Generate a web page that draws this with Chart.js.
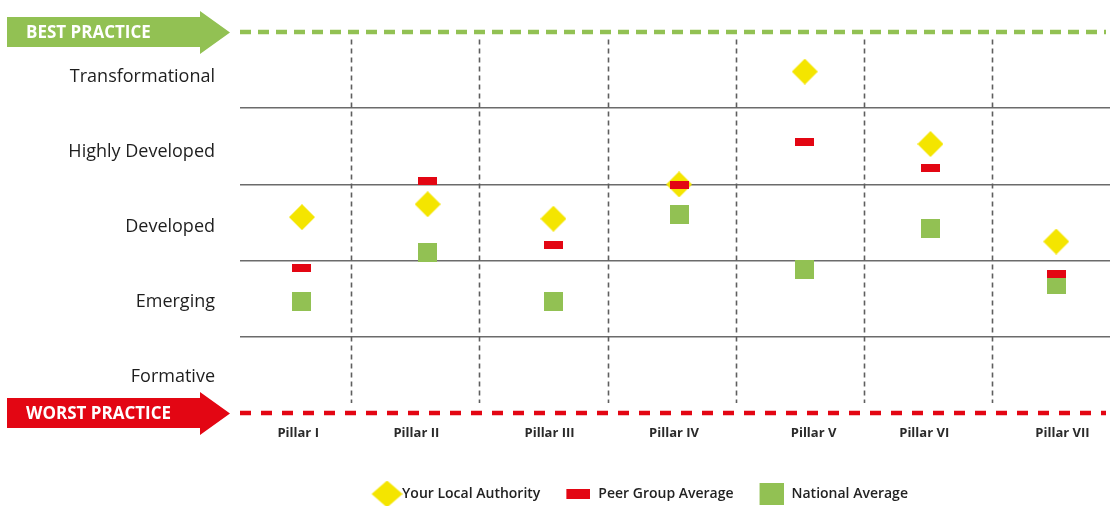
<!DOCTYPE html>
<html>
<head>
<meta charset="utf-8">
<script src="https://cdn.jsdelivr.net/npm/chart.js@4.4.1/dist/chart.umd.min.js"></script>
<style>
html,body{margin:0;padding:0;background:#fff;}
#wrap{width:1110px;height:506px;position:relative;}
</style>
</head>
<body>
<div id="wrap"><canvas id="c" width="1110" height="506"></canvas></div>
<script>
// ---- data ----
const pillars = ['Pillar I','Pillar II','Pillar III','Pillar IV','Pillar V','Pillar VI','Pillar VII'];
const levels = ['Formative','Emerging','Developed','Highly Developed','Transformational'];
const seriesNames = ['Your Local Authority','Peer Group Average','National Average'];
const localAuthority = [2.57, 2.74, 2.55, 3.00, 4.48, 3.53, 2.25];
const peerGroup      = [1.90, 3.04, 2.20, 2.99, 3.56, 3.21, 1.83];
const nationalAvg    = [1.46, 2.11, 1.46, 2.61, 1.88, 2.42, 1.68];

// ---- styling ----
const YELLOW = '#f4e500', RED = '#e30613', GREEN = '#92c153';
const labelNudge = [-0.03, -0.09, -0.03, -0.04, 0.07, -0.05, 0.05];
const sepStart = 1.392, sepStep = 1.02;
const levelLabelStep = 0.984;
const legendLeftInset = 152;

function makeMarker(shape, w, h, color, shift) {
  shift = shift || 0;
  const c = document.createElement('canvas');
  const W = w + 2 * Math.abs(shift);
  c.width = W; c.height = h;
  const g = c.getContext('2d');
  g.fillStyle = color;
  const x0 = (W - w) / 2 + shift;
  if (shape === 'diamond') {
    g.beginPath();
    g.moveTo(x0 + w / 2, 0); g.lineTo(x0 + w, h / 2);
    g.lineTo(x0 + w / 2, h); g.lineTo(x0, h / 2);
    g.closePath(); g.fill();
  } else {
    g.fillRect(x0, 0, w, h);
  }
  return c;
}
const chartMarkers = [
  makeMarker('diamond', 26, 26, YELLOW),
  makeMarker('rect', 19, 8, RED),
  makeMarker('rect', 19, 19, GREEN)
];
const legendMarkers = [
  makeMarker('diamond', 31, 27, YELLOW, 12.5),
  makeMarker('rect', 24, 10, RED, 7.5),
  makeMarker('rect', 24, 22, GREEN, 7.5)
];

const toPoints = arr => arr.map((v, i) => ({ x: i + 1, y: v }));
const seriesValues = [localAuthority, peerGroup, nationalAvg];
const drawOrder = [3, 1, 2];

const datasets = seriesValues.map((vals, k) => ({
  label: seriesNames[k],
  data: toPoints(vals),
  pointStyle: chartMarkers[k],
  pointRadius: 10,
  pointHoverRadius: 10,
  order: drawOrder[k],
  showLine: false,
  clip: false,
  xAxisID: 'x',
  yAxisID: 'y'
}));

const XMIN = 0.507, XMAX = 7.428;

const decor = {
  id: 'decor',
  afterLayout(chart) {
    if (chart.legend) chart.legend.left = legendLeftInset;
  },
  beforeDatasetsDraw(chart) {
    const ctx = chart.ctx, x = chart.scales.x, y = chart.scales.y;
    ctx.save();
    ctx.strokeStyle = '#5e5e5e';
    ctx.lineWidth = 1.6;
    ctx.setLineDash([5, 4]);
    for (let k = 0; k < pillars.length - 1; k++) {
      const px = Math.round(x.getPixelForValue(sepStart + k * sepStep)) + 0.5;
      ctx.beginPath();
      ctx.moveTo(px, y.getPixelForValue(4.9));
      ctx.lineTo(px, y.getPixelForValue(0.13));
      ctx.stroke();
    }
    ctx.restore();
  },
  afterDraw(chart) {
    const ctx = chart.ctx, y = chart.scales.y, a = chart.chartArea;
    const yTop = y.getPixelForValue(5), yBot = y.getPixelForValue(0);
    ctx.save();
    ctx.lineWidth = 4.6;
    ctx.setLineDash([11, 7]);
    ctx.strokeStyle = GREEN;
    ctx.beginPath(); ctx.moveTo(a.left, yTop); ctx.lineTo(a.right - 4, yTop); ctx.stroke();
    ctx.setLineDash([11, 10]);
    ctx.strokeStyle = RED;
    ctx.beginPath(); ctx.moveTo(a.left, yBot); ctx.lineTo(a.right - 4, yBot); ctx.stroke();
    ctx.setLineDash([]);
    function arrow(cy, color, text) {
      ctx.fillStyle = color;
      ctx.beginPath();
      ctx.moveTo(7, cy - 15);
      ctx.lineTo(200, cy - 15);
      ctx.lineTo(200, cy - 21);
      ctx.lineTo(230, cy + 0.5);
      ctx.lineTo(200, cy + 22);
      ctx.lineTo(200, cy + 15);
      ctx.lineTo(7, cy + 15);
      ctx.closePath();
      ctx.fill();
      ctx.fillStyle = '#ffffff';
      ctx.font = 'bold 17px "Open Sans"';
      ctx.textBaseline = 'middle';
      ctx.textAlign = 'left';
      ctx.fillText(text, 26, cy + 1);
    }
    arrow(yTop, GREEN, 'BEST PRACTICE');
    arrow(yBot, RED, 'WORST PRACTICE');
    ctx.restore();
  }
};

new Chart(document.getElementById('c'), {
  type: 'scatter',
  data: { datasets },
  plugins: [decor],
  options: {
    responsive: false,
    animation: false,
    events: [],
    devicePixelRatio: 1,
    layout: { autoPadding: false, padding: { top: 32, left: 0, right: 0, bottom: -5 } },
    plugins: {
      tooltip: { enabled: false },
      legend: {
        position: 'bottom',
        labels: {
          usePointStyle: true,
          pointStyleWidth: 41,
          padding: 10,
          color: '#222',
          font: { family: 'Open Sans', size: 14, weight: '600' },
          generateLabels(chart) {
            const items = Chart.defaults.plugins.legend.labels.generateLabels(chart);
            items.forEach(it => { it.pointStyle = legendMarkers[it.datasetIndex]; it.fontColor = '#222'; });
            return items.sort((p, q) => p.datasetIndex - q.datasetIndex);
          }
        }
      }
    },
    scales: {
      x: { type: 'linear', min: XMIN, max: XMAX, display: false },
      xLab: {
        type: 'linear', position: 'bottom', min: XMIN, max: XMAX,
        grid: { display: false, drawTicks: false }, border: { display: false },
        afterBuildTicks(s) { s.ticks = pillars.map((p, i) => ({ value: i + 1 + labelNudge[i] })); },
        ticks: {
          autoSkip: false, maxRotation: 0, padding: 12,
          color: '#2a2a2a',
          font: { family: 'Open Sans', size: 13, weight: 'bold' },
          callback: (v, i) => pillars[i]
        },
        afterFit(s) { s.height = 64; s.paddingLeft = 0; s.paddingRight = 0; }
      },
      y: {
        type: 'linear', position: 'left', min: 0, max: 5,
        grid: { display: false, drawTicks: false }, border: { display: false },
        afterBuildTicks(s) { s.ticks = levels.map((l, i) => ({ value: 0.5 + i * levelLabelStep })); },
        ticks: {
          autoSkip: false, padding: 25, labelOffset: 2,
          color: '#1e1e1e',
          font: { family: 'Open Sans', size: 18 },
          callback: (v, i) => levels[i]
        },
        afterFit(s) { s.width = 240; s.paddingTop = 0; s.paddingBottom = 0; }
      },
      yGrid: {
        type: 'linear', position: 'right', min: 0, max: 5,
        border: { display: false },
        ticks: { display: false },
        grid: { color: '#6b6b6b', lineWidth: 1.5, drawTicks: false },
        afterBuildTicks(s) { s.ticks = [1, 2, 3, 4].map(v => ({ value: v })); },
        afterFit(s) { s.width = 0; s.paddingTop = 0; s.paddingBottom = 0; }
      }
    }
  }
});
</script>
</body>
</html>
